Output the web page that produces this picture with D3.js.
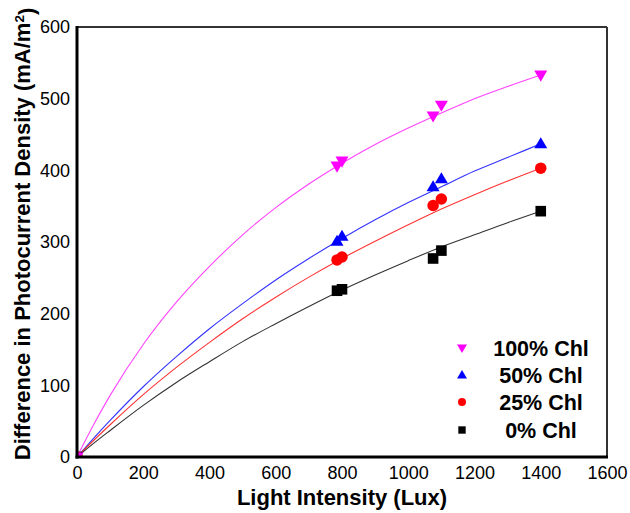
<!DOCTYPE html>
<html><head><meta charset="utf-8">
<script src="https://cdn.jsdelivr.net/npm/d3@7"></script>
<style>
body{margin:0;background:#fff;}
svg{display:block;}
text{font-family:Arial,"Liberation Sans",sans-serif;}
</style></head>
<body>
<svg id="chart" width="630" height="513"></svg>
<script>
// Measured points
const lightX = [0, 785, 800, 1075, 1100, 1400];
const chl100 = [0, 406, 413, 476, 491, 533];
const chl50  = [0, 301, 308, 377, 388, 437];
const chl25  = [0, 275, 279, 351, 360, 403];
const chl0   = [0, 232, 234, 277, 288, 343];

// Fitted curves
const fitX      = [0, 50, 100, 200, 300, 400, 500, 600, 700, 800, 900, 1000, 1100, 1200, 1300, 1400];
const fit100    = [0, 45, 86, 157, 216, 266, 310, 348, 381, 410, 436, 459, 480, 500, 517, 533];
const fit50     = [0, 26, 51, 98, 140, 179, 214, 247, 277, 305, 331, 355, 377, 399, 418, 437];
const fit25     = [0, 23, 45, 87, 125, 160, 193, 223, 251, 277, 301, 324, 346, 366, 385, 403];
const fit0      = [0, 19, 37, 72, 104, 133, 161, 186, 210, 233, 254, 274, 293, 310, 327, 343];

const seriesNames = ["100% Chl", "50% Chl", "25% Chl", "0% Chl"];
const seriesColors = ["#ff00ff", "#0000ff", "#ff0000", "#000000"];
const lineColors = ["#ff44ff", "#3333ff", "#ff3333", "#333333"];
const seriesShapes = ["down", "up", "circle", "square"];
const seriesValues = [chl100, chl50, chl25, chl0];
const fitValues = [fit100, fit50, fit25, fit0];

const xTicks = [0, 200, 400, 600, 800, 1000, 1200, 1400, 1600];
const yTicks = [0, 100, 200, 300, 400, 500, 600];

const svg = d3.select("#chart");
const L = 77, R = 607, T = 27, B = 457;
const x = d3.scaleLinear().domain([0, 1600]).range([L, R]);
const y = d3.scaleLinear().domain([0, 600]).range([B, T]);

svg.append("clipPath").attr("id","clip").append("rect")
  .attr("x", L).attr("y", T).attr("width", R-L).attr("height", B-T);

const FF = "Arial, 'Liberation Sans', sans-serif";
// axes tick labels
const gx = svg.append("g").attr("transform", `translate(0,${B})`)
  .call(d3.axisBottom(x).tickValues(xTicks).tickSize(0).tickPadding(9).tickFormat(d3.format("d")));
gx.select(".domain").remove();
gx.selectAll("text").attr("font-size", 18).attr("fill", "#000").style("font-family", FF);

const gy = svg.append("g").attr("transform", `translate(${L},0)`)
  .call(d3.axisLeft(y).tickValues(yTicks).tickSize(0).tickPadding(7).tickFormat(d3.format("d")));
gy.select(".domain").remove();
gy.selectAll("text").attr("font-size", 18).attr("fill", "#000").style("font-family", FF);

// curves
const line = d3.line().x(d => x(d[0])).y(d => y(d[1])).curve(d3.curveMonotoneX);
const plot = svg.append("g").attr("clip-path", "url(#clip)");
fitValues.forEach((fv, i) => {
  plot.append("path").datum(fitX.map((v, j) => [v, fv[j]]))
    .attr("d", line).attr("fill", "none").attr("stroke", lineColors[i]).attr("stroke-width", 1.1);
});

function symbolFor(shape, w) {
  // w = approximate marker width in px
  if (shape === "circle") return d3.symbol().type(d3.symbolCircle).size(Math.PI * (w/2) * (w/2))();
  if (shape === "square") return d3.symbol().type(d3.symbolSquare).size(w * w * 0.85)();
  const hw = w / 2, h = w * 0.85;
  if (shape === "up") return `M0,${-h*0.6}L${hw},${h*0.4}L${-hw},${h*0.4}Z`;
  return `M0,${h*0.6}L${hw},${-h*0.4}L${-hw},${-h*0.4}Z`;
}

// markers (drawn from 0% upward so 100% on top)
for (let i = seriesValues.length - 1; i >= 0; i--) {
  const w = (seriesShapes[i] === "up" || seriesShapes[i] === "down") ? 13 : 11.5;
  plot.selectAll(null).data(lightX.map((v, j) => [v, seriesValues[i][j]])).enter()
    .append("path")
    .attr("transform", d => `translate(${x(d[0])},${y(d[1])})`)
    .attr("d", symbolFor(seriesShapes[i], w))
    .attr("fill", seriesColors[i]);
}

// frame
svg.append("line").attr("x1", L).attr("x2", R).attr("y1", T).attr("y2", T).attr("stroke", "#333").attr("stroke-width", 2);
svg.append("line").attr("x1", R).attr("x2", R).attr("y1", T).attr("y2", B).attr("stroke", "#333").attr("stroke-width", 2);
svg.append("line").attr("x1", L).attr("x2", L).attr("y1", T-1).attr("y2", B+1.5).attr("stroke", "#000").attr("stroke-width", 3);
svg.append("line").attr("x1", L-1.5).attr("x2", R+1).attr("y1", B).attr("y2", B).attr("stroke", "#000").attr("stroke-width", 3);

// legend
const legY = [348, 375, 402, 430];
seriesNames.forEach((n, i) => {
  const w = (seriesShapes[i] === "up" || seriesShapes[i] === "down") ? 10 : 8;
  svg.append("path").attr("transform", `translate(462,${legY[i]})`)
    .attr("d", symbolFor(seriesShapes[i], w)).attr("fill", seriesColors[i]);
  svg.append("text").attr("x", 541).attr("y", legY[i]).attr("dy", "0.36em")
    .attr("text-anchor", "middle").attr("font-size", 21.5).attr("font-weight", "bold").text(n);
});

// axis titles
svg.append("text").attr("x", 342).attr("y", 505).attr("text-anchor", "middle")
  .attr("font-size", 22).attr("font-weight", "bold").text("Light Intensity (Lux)");

const yt = svg.append("text").attr("transform", "translate(30,234) rotate(-90)")
  .attr("text-anchor", "middle").attr("font-size", 22).attr("font-weight", "bold");
yt.append("tspan").text("Difference in Photocurrent Density (mA/m");
yt.append("tspan").attr("dy", "-0.45em").attr("font-size", 13.5).text("2");
yt.append("tspan").attr("dy", "0.45em").text(")");
</script>
</body></html>
